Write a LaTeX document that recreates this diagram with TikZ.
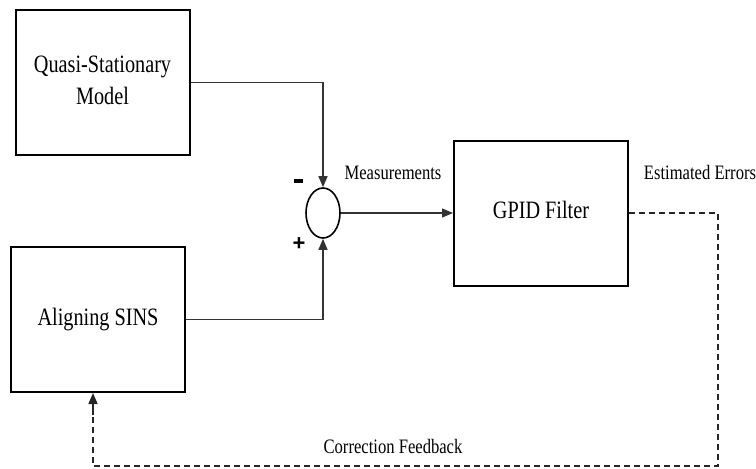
\documentclass[tikz,border=0pt]{standalone}
\usepackage{fontspec}
\usepackage{graphicx}
\setmainfont{Liberation Serif}
\newfontfamily\signfont{Liberation Sans}
\usepackage{tikz}
\usetikzlibrary{calc}
\usetikzlibrary{shapes}
\usetikzlibrary{arrows.meta}
\newcommand{\boxtext}[1]{\raisebox{11pt}{\scalebox{0.81}[1]{\begin{tabular}{@{}c@{}}#1\end{tabular}}}}
\newcommand{\labtext}[1]{\scalebox{0.81}[1]{#1}}
\tikzset{
    blockbox/.style={draw, line width=2pt, minimum width=174pt, minimum height=145pt, inner sep=0pt, font=\fontsize{25}{32}\selectfont},
    sumnode/.style={draw, ellipse, line width=1.6pt, minimum width=34pt, minimum height=50pt, inner sep=0pt},
    lab/.style={font=\fontsize{20.5}{24}\selectfont, inner sep=0pt},
    signlab/.style={font=\signfont\fontsize{22}{22}\selectfont\bfseries, inner sep=0pt},
    sig/.style={draw=black!80, line width=1.4pt, -{Triangle[length=11pt,width=9pt]}},
    fb/.style={draw=black!85, line width=1.6pt, dash pattern=on 6pt off 4pt}
}

\begin{document}
\begin{tikzpicture}[x=1pt,y=-1pt]
        \useasboundingbox (0,0) rectangle (756,469);
    %blocks
        \node[blockbox] (quasi) at (102.5,82.5) {\boxtext{Quasi-Stationary\\Model}};
        \node[blockbox] (align) at (98,319.5) {\boxtext{Aligning SINS}};
        \node[blockbox] (gpid) at (541,213) {\boxtext{GPID Filter}};
        \node[sumnode] (sum) at (323,213) {};
    %signs and labels
        \node[inner sep=0pt] (minus) at (298,181) {\rule{9pt}{3.5pt}};
        \node[signlab] (plus) at (299,244) {+};
        \node[lab] (meas) at (393,173) {\labtext{Measurements}};
        \node[lab] (esterr) at (700,172) {\labtext{Estimated Errors}};
        \node[lab] (corr) at (393,446) {\labtext{Correction Feedback}};
    %connections
        \draw[sig] (quasi.east) -| (sum.north);
        \draw[sig] (align.east) -| (sum.south);
        \draw[sig] (sum.east) -- (gpid.west);
        \coordinate (fbR) at (718,466);
        \coordinate (fbL) at (93,466);
        \draw[fb] (gpid.east) -| (fbR) -- (fbL) -- (fbL |- align.south);
        \draw[black!85, -{Triangle[length=11pt,width=9pt]}, line width=1.6pt] ($(fbL |- align.south)+(0,22)$) -- (fbL |- align.south);
\end{tikzpicture}
\end{document}
